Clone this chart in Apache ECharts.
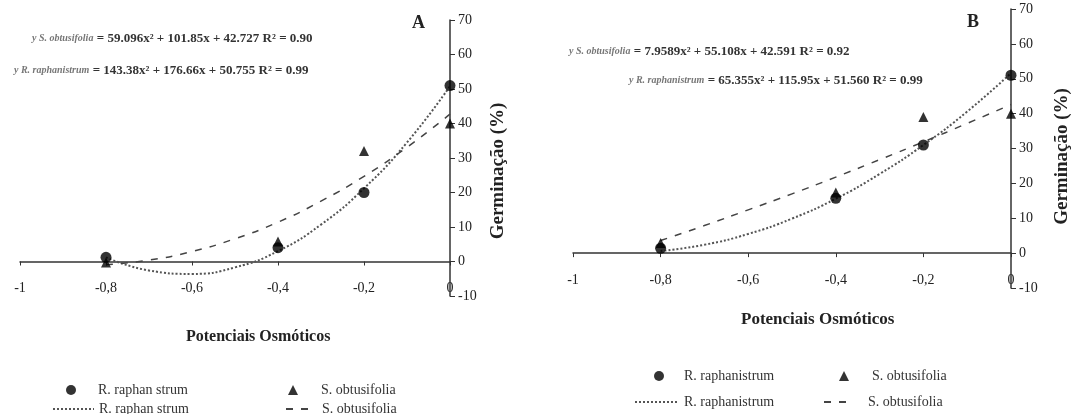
<!DOCTYPE html>
<html>
<head>
<meta charset="utf-8">
<script src="https://cdn.jsdelivr.net/npm/echarts@6/dist/echarts.min.js"></script>
<style>html,body{margin:0;padding:0;background:#fff;}#c{width:1092px;height:414px;}</style>
</head>
<body>
<div id="c"></div>
<script>
// ---- data ----
const xTickLabels = ['-1', '-0,8', '-0,6', '-0,4', '-0,2', '0'];
const xObs = [-0.8, -0.4, -0.2, 0];
const aRaphPts = [1.2, 4, 20, 51];
const aObtPts = [-0.3, 5.8, 32, 40];
const bRaphPts = [1.4, 15.7, 31, 51];
const bObtPts = [2.9, 17.4, 39, 40];
const xFit = [-0.8, -0.7, -0.6, -0.5, -0.4, -0.3, -0.2, -0.1, 0];
const aRaphFit = [1.2, -2.6, -3.6, -1.7, 3.0, 10.7, 21.2, 34.5, 50.8];
const aObtFit = [-0.9, 0.4, 2.9, 6.6, 11.4, 17.5, 24.7, 33.1, 42.7];
const bRaphFit = [0.6, 2.4, 5.5, 9.9, 15.6, 22.7, 31.0, 40.6, 51.6];
const bObtFit = [3.6, 7.9, 12.4, 17.0, 21.8, 26.8, 31.9, 37.2, 42.6];
const eqA1 = ['y S. obtusifolia', '= 59.096x² + 101.85x + 42.727 R² = 0.90'];
const eqA2 = ['y R. raphanistrum', '= 143.38x² + 176.66x + 50.755 R² = 0.99'];
const eqB1 = ['y S. obtusifolia', '= 7.9589x² + 55.108x + 42.591 R² = 0.92'];
const eqB2 = ['y R. raphanistrum', '= 65.355x² + 115.95x + 51.560 R² = 0.99'];
const legendText = {
  aRp: 'R. raphan strum', aRf: 'R. raphan strum', aSp: 'S. obtusifolia', aSf: 'S. obtusifolia',
  bRp: 'R. raphanistrum', bRf: 'R. raphanistrum', bSp: 'S. obtusifolia', bSf: 'S. obtusifolia'
};

const FONT = 'Liberation Serif';
const pairs = (xs, ys) => xs.map((x, i) => [x, ys[i]]);

function xAxisCfg(gi) {
  return {
    gridIndex: gi, type: 'value', min: -1, max: 0, interval: 0.2,
    axisLine: { show: true, onZero: true, lineStyle: { color: '#333', width: 1.5 } },
    axisTick: { show: true, length: 4, lineStyle: { color: '#333' } },
    splitLine: { show: false },
    axisLabel: {
      margin: -15, color: '#222', fontFamily: FONT, fontSize: 14,
      formatter: v => xTickLabels[Math.round((v + 1) / 0.2)]
    }
  };
}
function yAxisCfg(gi, gap, shift) {
  return {
    gridIndex: gi, type: 'value', position: 'right', min: -10, max: 70, interval: 10,
    axisLine: { show: true, onZero: false, lineStyle: { color: '#333', width: 1.5 } },
    axisTick: { show: true, length: 5, lineStyle: { color: '#333' } },
    splitLine: { show: false },
    axisLabel: { margin: 8, color: '#222', fontFamily: FONT, fontSize: 14 },
    name: 'Germinação (%)', nameLocation: 'middle', nameRotate: 90, nameGap: gap,
    nameTextStyle: { fontFamily: FONT, fontSize: 19, fontWeight: 'bold', color: '#222', padding: [0, shift, 0, 0] }
  };
}
const dotted = { color: '#555', width: 2, type: 'dotted' };
const dashed = { color: '#444', width: 1.5, type: [7, 8] };

function legendCfg(name, left, top, w, h, pad, isLine) {
  const cfg = {
    data: [name], left: left, top: top, itemWidth: w, itemHeight: h,
    selectedMode: false, padding: 0, itemGap: 0,
    formatter: n => legendText[n],
    textStyle: { fontFamily: FONT, fontSize: 14, color: '#333', padding: [0, 0, 0, pad] }
  };
  if (isLine) cfg.itemStyle = { opacity: 0 };
  return cfg;
}
function eqText(eq, x, y) {
  return {
    type: 'text', left: x, top: y,
    style: {
      text: '{p|' + eq[0] + '} {m|' + eq[1] + '}',
      rich: {
        p: { fontFamily: FONT, fontSize: 10, fontStyle: 'italic', fill: '#777', fontWeight: 'bold' },
        m: { fontFamily: FONT, fontSize: 13, fill: '#333', fontWeight: 'bold' }
      }
    }
  };
}

const chart = echarts.init(document.getElementById('c'), null, { renderer: 'canvas' });
chart.setOption({
  animation: false,
  backgroundColor: '#fff',
  grid: [
    { left: 20, right: 642, top: 20, bottom: 118 },
    { left: 573, right: 81, top: 9, bottom: 126 }
  ],
  xAxis: [xAxisCfg(0), xAxisCfg(1)],
  yAxis: [yAxisCfg(0, 39, 26), yAxisCfg(1, 42, 16)],
  legend: [
    legendCfg('aRp', 66, 383, 10, 10, 17, false),
    legendCfg('aSp', 288, 383, 10, 10, 18, false),
    legendCfg('aRf', 52, 402, 41, 10, 0, true),
    legendCfg('aSf', 285, 402, 22, 10, 9, true),
    legendCfg('bRp', 654, 369, 10, 10, 15, false),
    legendCfg('bSp', 839, 369, 10, 10, 18, false),
    legendCfg('bRf', 634, 395, 44, 10, 0, true),
    legendCfg('bSf', 823, 395, 22, 10, 17, true)
  ],
  graphic: [
    { type: 'text', left: 412, top: 14, style: { text: 'A', fontFamily: FONT, fontSize: 18, fontWeight: 'bold', fill: '#222' } },
    { type: 'text', left: 967, top: 13, style: { text: 'B', fontFamily: FONT, fontSize: 18, fontWeight: 'bold', fill: '#222' } },
    { type: 'text', left: 186, top: 329, style: { text: 'Potenciais Osmóticos', fontFamily: FONT, fontSize: 16, fontWeight: 'bold', fill: '#222' } },
    { type: 'text', left: 741, top: 311, style: { text: 'Potenciais Osmóticos', fontFamily: FONT, fontSize: 17, fontWeight: 'bold', fill: '#222' } },
    eqText(eqA1, 32, 32),
    eqText(eqA2, 14, 64),
    eqText(eqB1, 569, 45),
    eqText(eqB2, 629, 74)
  ],
  series: [
    { name: 'aRf', type: 'line', xAxisIndex: 0, yAxisIndex: 0, smooth: true, symbol: 'none', lineStyle: dotted, itemStyle: { color: '#555' }, data: pairs(xFit, aRaphFit), z: 2 },
    { name: 'aSf', type: 'line', xAxisIndex: 0, yAxisIndex: 0, smooth: true, symbol: 'none', lineStyle: dashed, itemStyle: { color: '#444' }, data: pairs(xFit, aObtFit), z: 2 },
    { name: 'aRp', type: 'scatter', xAxisIndex: 0, yAxisIndex: 0, symbol: 'circle', symbolSize: 11, itemStyle: { color: '#000' }, data: pairs(xObs, aRaphPts), z: 3 },
    { name: 'aSp', type: 'scatter', xAxisIndex: 0, yAxisIndex: 0, symbol: 'triangle', symbolSize: 10, itemStyle: { color: '#000' }, data: pairs(xObs, aObtPts), z: 4 },
    { name: 'bRf', type: 'line', xAxisIndex: 1, yAxisIndex: 1, smooth: true, symbol: 'none', lineStyle: dotted, itemStyle: { color: '#555' }, data: pairs(xFit, bRaphFit), z: 2 },
    { name: 'bSf', type: 'line', xAxisIndex: 1, yAxisIndex: 1, smooth: true, symbol: 'none', lineStyle: dashed, itemStyle: { color: '#444' }, data: pairs(xFit, bObtFit), z: 2 },
    { name: 'bRp', type: 'scatter', xAxisIndex: 1, yAxisIndex: 1, symbol: 'circle', symbolSize: 11, itemStyle: { color: '#000' }, data: pairs(xObs, bRaphPts), z: 3 },
    { name: 'bSp', type: 'scatter', xAxisIndex: 1, yAxisIndex: 1, symbol: 'triangle', symbolSize: 10, itemStyle: { color: '#000' }, data: pairs(xObs, bObtPts), z: 4 }
  ]
});
</script>
</body>
</html>
